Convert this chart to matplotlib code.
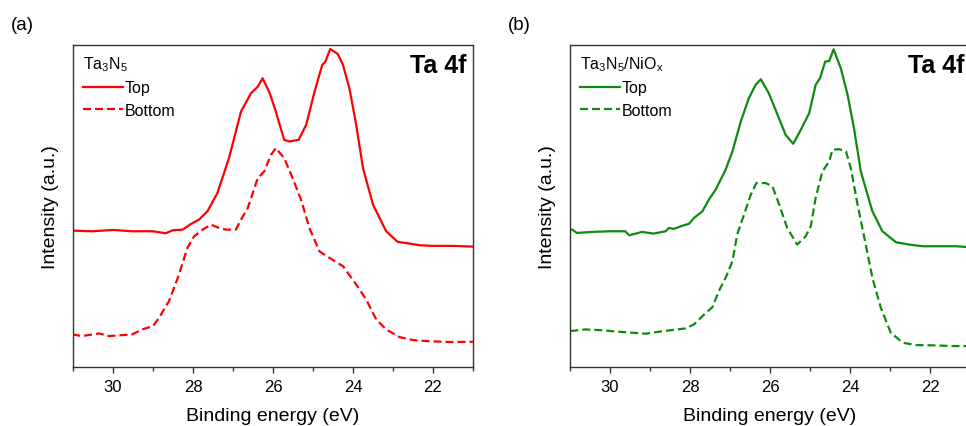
import matplotlib
matplotlib.use("Agg")
import matplotlib.pyplot as plt
import numpy as np

plt.rcParams['font.family'] = ['Liberation Sans', 'DejaVu Sans']
plt.rcParams['mathtext.fontset'] = 'custom'
plt.rcParams['mathtext.rm'] = 'Liberation Sans'
plt.rcParams['mathtext.it'] = 'Liberation Sans:italic'
plt.rcParams['mathtext.bf'] = 'Liberation Sans:bold'

# ---------------- data (binding energy in eV, intensity in a.u.) ----------------
a_top_x = [31.02, 30.52, 30.0, 29.52, 29.0, 28.68, 28.51, 28.26, 28.05, 27.85, 27.64, 27.39,
           27.1, 26.8, 26.55, 26.38, 26.26, 26.08, 25.93, 25.72, 25.59, 25.36, 25.17, 24.96,
           24.77, 24.69, 24.57, 24.38, 24.25, 24.09, 23.92, 23.75, 23.5, 23.17, 22.88, 22.58,
           22.33, 22.0, 21.5, 21.0]
a_top_y = [410, 408, 412, 408, 408, 402, 411, 413, 430, 443, 468, 523,
           628, 768, 823, 843, 868, 823, 768, 683, 678, 683, 728, 828,
           908, 918, 956, 941, 908, 838, 728, 598, 488, 408, 376, 371,
           366, 364, 364, 362]

a_bot_x = [31.02, 30.77, 30.35, 30.1, 29.52, 29.27, 29.0, 28.85, 28.6, 28.35, 28.14, 27.97,
           27.76, 27.55, 27.39, 27.18, 26.93, 26.8, 26.63, 26.38, 26.22, 26.05, 25.93, 25.72,
           25.51, 25.3, 25.09, 24.84, 24.59, 24.25, 23.92, 23.67, 23.42, 23.17, 22.84, 22.5,
           22.17, 21.58, 21.0]
a_bot_y = [98, 93, 101, 93, 98, 113, 123, 148, 198, 278, 358, 393,
           413, 428, 420, 413, 413, 443, 478, 568, 588, 638, 658, 628,
           568, 503, 418, 348, 328, 303, 248, 203, 143, 113, 90, 81,
           78, 75, 76]

b_top_x = [30.99, 30.94, 30.83, 30.45, 30.03, 29.62, 29.52, 29.2, 28.91, 28.61, 28.53, 28.41,
           28.16, 28.03, 27.9, 27.69, 27.53, 27.36, 27.11, 26.94, 26.73, 26.53, 26.36, 26.23,
           26.03, 25.86, 25.61, 25.42, 25.23, 25.02, 24.86, 24.75, 24.62, 24.52, 24.41, 24.23,
           24.06, 23.9, 23.73, 23.44, 23.19, 22.85, 22.52, 22.18, 21.77, 21.35, 21.0]
b_top_y = [411, 413, 403, 406, 408, 408, 396, 406, 401, 408, 418, 415,
           426, 430, 448, 468, 503, 533, 593, 648, 738, 808, 848, 865,
           823, 773, 698, 671, 713, 763, 848, 868, 918, 920, 955, 898,
           818, 718, 588, 468, 408, 375, 368, 363, 363, 363, 360]

b_bot_x = [30.99, 30.62, 30.28, 29.78, 29.45, 29.11, 28.78, 28.45, 28.11, 27.9, 27.69, 27.44,
           27.28, 27.11, 26.94, 26.82, 26.65, 26.48, 26.34, 26.11, 25.94, 25.77, 25.57, 25.32,
           25.11, 24.98, 24.86, 24.69, 24.52, 24.44, 24.27, 24.1, 23.98, 23.81, 23.64, 23.44,
           23.23, 22.98, 22.68, 22.35, 21.93, 21.43, 21.0]
b_bot_y = [108, 113, 111, 106, 103, 100, 106, 111, 116, 128, 153, 180,
           228, 268, 318, 398, 458, 518, 553, 553, 543, 488, 418, 368,
           393, 423, 508, 588, 618, 653, 655, 648, 598, 488, 388, 268,
           178, 103, 73, 66, 65, 63, 63]

xticks = [30, 28, 26, 24, 22]
xlabel = "Binding energy (eV)"
ylabel = "Intensity (a.u.)"
panel_labels = ["(a)", "(b)"]
sample_names = [r"Ta$_3$N$_5$", r"Ta$_3$N$_5$/NiO$_\mathrm{x}$"]
series_names = ["Top", "Bottom"]
core_level = "Ta 4f"

# ---------------- figure ----------------
W, H = 966, 427
fig = plt.figure(figsize=(W / 100, H / 100), dpi=100)

panels = [
    dict(rect=[73 / W, (H - 368) / H, 400 / W, 322 / H], color="#FF0000",
         top=(a_top_x, a_top_y), bot=(a_bot_x, a_bot_y)),
    dict(rect=[570 / W, (H - 368) / H, 400 / W, 322 / H], color="#0E8A0E",
         top=(b_top_x, b_top_y), bot=(b_bot_x, b_bot_y)),
]

for i, p in enumerate(panels):
    ax = fig.add_axes(p["rect"])
    ax.plot(p["top"][0], p["top"][1], color=p["color"], lw=1.6, ls="-", label=series_names[0])
    ax.plot(p["bot"][0], p["bot"][1], color=p["color"], lw=1.6, ls=(0, (3.6, 1.8)),
            label=series_names[1])
    ax.set_xlim(31, 21)
    ax.set_ylim(0, 968)
    ax.set_xticks(xticks)
    ax.set_xticks([31, 29, 27, 25, 23, 21], minor=True)
    ax.set_yticks([])
    ax.tick_params(axis="x", which="major", direction="out", length=4, width=1,
                   labelsize=12, pad=5, colors="#333333", labelcolor="black")
    ax.tick_params(axis="x", which="minor", direction="out", length=3, width=1, colors="#333333")
    for s in ax.spines.values():
        s.set_linewidth(1.0)
        s.set_color("#333333")
    ax.set_xlabel(xlabel, fontsize=14, labelpad=9)
    ax.set_ylabel(ylabel, fontsize=14, labelpad=10)
    leg = ax.legend(title=sample_names[i], loc="upper left", frameon=False,
                    fontsize=11.5, title_fontsize=11.5, handlelength=2.5,
                    handletextpad=0.15, borderaxespad=0.25, borderpad=0.35,
                    labelspacing=0.45, alignment="left")
    ax.text(0.985, 0.975, core_level, transform=ax.transAxes, ha="right", va="top",
            fontsize=18, fontweight="bold")
    fig.text((p["rect"][0] * W - 62) / W, 1 - 25 / H, panel_labels[i], fontsize=13.5,
             ha="left", va="center")

fig.savefig("out.png", dpi=100)
